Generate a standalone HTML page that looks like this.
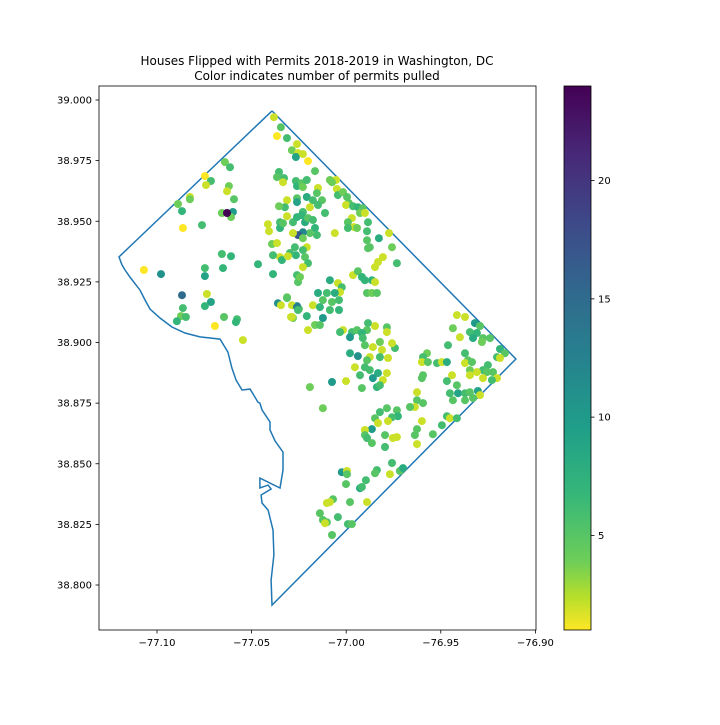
<!DOCTYPE html>
<html><head><meta charset="utf-8"><style>
body{margin:0;background:#fff;}
svg text{font-family:"DejaVu Sans","Liberation Sans",sans-serif;fill:#000;}
</style></head><body>
<svg id="chart" width="720" height="720" viewBox="0 0 720 720" xmlns="http://www.w3.org/2000/svg">
<rect width="720" height="720" fill="#fff"/>
<text x="317" y="65" font-size="12" text-anchor="middle">Houses Flipped with Permits 2018-2019 in Washington, DC</text>
<text x="317" y="80" font-size="12" text-anchor="middle">Color indicates number of permits pulled</text>
<g id="boundary"></g>
<g id="points"></g>
<rect x="99" y="86" width="437" height="544" fill="none" stroke="#000" stroke-width="0.8"/>
<g id="xaxis"></g>
<g id="yaxis"></g>
<defs><linearGradient id="vir" x1="0" y1="1" x2="0" y2="0">
<stop offset="0" stop-color="#fde725"/><stop offset="0.0625" stop-color="#b5de2b"/><stop offset="0.125" stop-color="#6ece58"/><stop offset="0.25" stop-color="#35b779"/><stop offset="0.375" stop-color="#1f9e89"/><stop offset="0.5" stop-color="#26828e"/><stop offset="0.625" stop-color="#31688e"/><stop offset="0.75" stop-color="#3e4989"/><stop offset="0.875" stop-color="#482878"/><stop offset="1" stop-color="#440154"/>
</linearGradient></defs>
<rect x="564" y="86" width="27" height="544" fill="url(#vir)" stroke="#000" stroke-width="0.8"/>
<g id="cbaxis"></g>
</svg>
<script>
const xTicks=[-77.10,-77.05,-77.00,-76.95,-76.90];
const xTickLabels=["−77.10","−77.05","−77.00","−76.95","−76.90"];
const yTicks=[39.000,38.975,38.950,38.925,38.900,38.875,38.850,38.825,38.800];
const yTickLabels=["39.000","38.975","38.950","38.925","38.900","38.875","38.850","38.825","38.800"];
const cbTicks=[5,10,15,20];
const cbMin=1, cbMax=24;
const boundaryLon=[-77.0392,-76.9103,-77.0392,-77.0397,-77.0382,-77.0387,-77.0413,-77.0445,-77.0450,-77.0397,-77.0413,-77.0456,-77.0456,-77.0350,-77.0334,-77.0334,-77.0376,-77.0403,-77.0403,-77.0445,-77.0456,-77.0466,-77.0508,-77.0551,-77.0582,-77.0604,-77.0625,-77.0667,-77.0773,-77.0852,-77.0921,-77.0984,-77.1037,-77.1063,-77.1090,-77.1143,-77.1169,-77.1185,-77.1201,-77.0392];
const boundaryLat=[38.9955,38.8932,38.7917,38.8020,38.8124,38.8227,38.8309,38.8338,38.8371,38.8396,38.8412,38.8400,38.8441,38.8400,38.8474,38.8548,38.8594,38.8639,38.8672,38.8722,38.8750,38.8754,38.8808,38.8804,38.8845,38.8895,38.8961,38.9014,38.9023,38.9039,38.9064,38.9101,38.9138,38.9175,38.9216,38.9270,38.9299,38.9320,38.9353,38.9955];
const lons=[-77.0382,-77.0345,-77.0366,-77.0313,-77.0260,-77.0287,-77.0255,-77.0266,-77.0202,-77.0165,-77.0641,-77.0614,-77.0747,-77.0715,-77.0741,-77.0620,-77.0630,-77.0593,-77.0826,-77.0826,-77.0889,-77.0868,-77.0657,-77.0599,-77.0609,-77.0863,-77.0762,-77.0657,-77.0609,-77.0466,-77.1069,-77.0979,-77.0747,-77.0651,-77.0747,-77.0387,-77.0868,-77.0736,-77.0863,-77.0715,-77.0747,-77.0873,-77.0847,-77.0895,-77.0646,-77.0577,-77.0583,-77.0694,-77.0546,-77.0361,-77.0345,-77.0260,-77.0287,-77.0313,-77.0250,-77.0292,-77.0281,-77.0202,-77.0208,-77.0176,-77.0149,
-77.0229,-77.0355,-77.0366,-77.0329,-77.0334,-77.0266,-77.0260,-77.0234,-77.0208,-77.0229,-77.0149,-77.0155,-77.0086,-77.0054,-77.0049,-77.0044,-77.0075,-77.0017,-76.9996,-76.9986,-77.0001,-76.9964,-76.9938,-76.9912,-76.9927,-76.9901,-76.9885,-76.9970,-76.9991,-76.9959,-76.9943,-76.9991,-77.0060,-76.9890,-76.9890,-76.9827,-76.9774,-76.9758,-76.9875,-76.9885,-76.9806,-76.9832,-76.9848,-76.9732,-77.0260,-77.0260,-77.0208,-77.0176,-77.0128,-77.0149,-77.0192,-77.0229,-77.0112,-77.0313,-77.0324,-77.0355,-77.0313,-77.0350,-77.0414,-77.0408,-77.0350,-77.0334,-77.0281,-77.0260,-77.0234,-77.0218,-77.0202,-77.0176,-77.0165,-77.0155,-77.0192,-77.0229,-77.0255,-77.0281,-77.0229,-77.0208,-77.0229,-77.0271,-77.0266,-77.0218,-77.0202,-77.0229,-77.0297,-77.0350,-77.0340,-77.0387,-77.0392,-77.0366,-77.0308,-77.0260,-77.0255,-77.0244,-77.0086,-77.0044,-77.0023,-77.0033,-77.0060,-77.0102,-77.0123,-77.0075,-77.0038,-77.0139,-77.0086,-77.0038,-77.0123,-77.0165,-77.0139,-77.0313,-77.0260,-77.0255,-77.0287,-76.9890,-76.9864,-76.9838,-76.9964,-76.9938,-76.9917,-76.9864,-76.9848,-76.9901,-77.0017,-76.9970,-76.9943,-76.9885,-76.9848,-76.9785,-76.9785,-76.9890,-76.9917,-76.9980,-77.0033,
-76.9415,-76.9372,-76.9436,-76.9399,-76.9320,-76.9293,-76.9346,-76.9309,-76.9330,-76.9277,-76.9240,-76.9283,-76.9462,-76.9187,-76.9161,-76.9372,-76.9357,-76.9372,-76.9335,-76.9203,-76.9187,-76.9251,-76.9277,-76.9346,-76.9346,-76.9309,-76.9256,-76.9224,-76.9203,-76.9230,-76.9277,-76.9573,-76.9594,-76.9600,-76.9568,-76.9520,-76.9494,-76.9468,-76.9441,-76.9468,-76.9594,-76.9600,-76.9415,-76.9452,-76.9409,-76.9372,-76.9346,-76.9304,-76.9293,-76.9372,-76.9330,-76.9436,
-76.9938,-76.9980,-76.9901,-76.9912,-76.9859,-76.9822,-76.9742,-76.9758,-76.9811,-76.9875,-76.9822,-76.9779,-76.9890,-76.9901,-76.9875,-76.9832,-76.9785,-76.9859,-76.9806,-76.9838,-76.9822,-76.9954,-76.9927,-76.9917,-77.0001,-77.0075,-77.0192,-77.0123,-76.9626,-76.9626,-76.9594,-76.9637,-76.9663,-76.9600,-76.9468,-76.9452,-76.9415,-76.9494,-76.9542,-76.9626,-76.9637,-76.9626,-76.9822,-76.9785,-76.9732,-76.9727,-76.9758,-76.9848,-76.9832,-76.9779,-76.9864,-76.9901,-76.9901,-76.9890,-76.9864,-76.9795,-76.9753,-76.9732,-76.9795,-76.9758,-76.9838,-76.9848,-76.9769,-76.9716,-76.9700,-77.0023,-76.9996,-76.9996,-76.9896,-77.0001,-76.9927,-76.9917,-76.9890,-76.9980,-77.0070,-77.0102,-77.0086,-77.0139,-77.0123,-77.0102,-77.0044,-76.9991,-76.9970,-77.0075,-77.0112,-77.0630];
const lats=[38.9929,38.9888,38.9851,38.9843,38.9818,38.9793,38.9781,38.9765,38.9748,38.9707,38.9744,38.9723,38.9686,38.9666,38.9649,38.9645,38.9624,38.9591,38.9600,38.9591,38.9571,38.9542,38.9534,38.9538,38.9517,38.9472,38.9484,38.9365,38.9356,38.9323,38.9299,38.9282,38.9307,38.9307,38.9274,38.9282,38.9195,38.9200,38.9142,38.9167,38.9150,38.9109,38.9105,38.9088,38.9105,38.9096,38.9084,38.9068,38.9010,38.9162,38.9154,38.9150,38.9154,38.9187,38.9138,38.9105,38.9101,38.9051,38.9109,38.9154,38.9204,
38.9777,38.9703,38.9682,38.9678,38.9661,38.9666,38.9645,38.9657,38.9670,38.9641,38.9637,38.9616,38.9670,38.9670,38.9633,38.9608,38.9661,38.9620,38.9600,38.9575,38.9567,38.9562,38.9558,38.9554,38.9534,38.9534,38.9496,38.9513,38.9496,38.9476,38.9472,38.9472,38.9451,38.9459,38.9422,38.9430,38.9451,38.9393,38.9393,38.9389,38.9352,38.9332,38.9311,38.9327,38.9595,38.9579,38.9600,38.9587,38.9587,38.9567,38.9558,38.9538,38.9534,38.9587,38.9558,38.9562,38.9521,38.9496,38.9488,38.9459,38.9472,38.9492,38.9496,38.9517,38.9525,38.9496,38.9513,38.9505,38.9472,38.9443,38.9451,38.9455,38.9443,38.9451,38.9430,38.9393,38.9381,38.9393,38.9360,38.9352,38.9327,38.9311,38.9369,38.9352,38.9340,38.9360,38.9406,38.9410,38.9356,38.9278,38.9249,38.9270,38.9257,38.9245,38.9228,38.9208,38.9204,38.9204,38.9175,38.9167,38.9175,38.9146,38.9134,38.9134,38.9101,38.9072,38.9072,38.9183,38.9146,38.9134,38.9105,38.9204,38.9204,38.9204,38.9278,38.9294,38.9270,38.9257,38.9249,38.9257,38.9051,38.9043,38.9051,38.9080,38.9068,38.9063,38.9043,38.9051,38.9039,38.9022,38.9043,
38.9113,38.9105,38.9059,38.9022,38.9080,38.9068,38.9043,38.9039,38.9018,38.9018,38.9018,38.9002,38.8989,38.8973,38.8956,38.8956,38.8927,38.8915,38.8919,38.8940,38.8936,38.8907,38.8886,38.8886,38.8865,38.8878,38.8878,38.8878,38.8853,38.8845,38.8853,38.8956,38.8940,38.8919,38.8919,38.8915,38.8919,38.8919,38.8865,38.8841,38.8865,38.8853,38.8824,38.8791,38.8791,38.8791,38.8795,38.8800,38.8783,38.8762,38.8771,38.8762,
38.8944,38.8956,38.8989,38.9018,38.8981,38.9002,38.8977,38.8997,38.8969,38.8940,38.8940,38.8936,38.8927,38.8898,38.8886,38.8874,38.8874,38.8853,38.8845,38.8816,38.8824,38.8898,38.8865,38.8812,38.8841,38.8837,38.8816,38.8729,38.8795,38.8762,38.8750,38.8734,38.8734,38.8676,38.8696,38.8688,38.8688,38.8659,38.8622,38.8643,38.8618,38.8581,38.8713,38.8729,38.8721,38.8696,38.8692,38.8688,38.8668,38.8676,38.8643,38.8639,38.8618,38.8606,38.8585,38.8618,38.8606,38.8610,38.8569,38.8503,38.8474,38.8461,38.8457,38.8470,38.8482,38.8465,38.8470,38.8457,38.8432,38.8416,38.8399,38.8404,38.8342,38.8342,38.8354,38.8338,38.8342,38.8296,38.8268,38.8259,38.8280,38.8251,38.8251,38.8206,38.8255,38.9534];
const permits=[2,5,1,6,2,4,2,9,1,5,4,6,1,6,2,4,2,5,2,4,4,7,4,10,4,1,6,6,7,7,1,11,6,7,9,7,15,2,6,9,7,4,6,7,5,6,7,1,2,11,2,12,2,4,5,2,4,2,7,2,8,
2,6,5,6,2,6,7,5,6,4,2,5,4,2,2,6,4,4,5,5,2,6,7,5,4,2,6,2,5,2,4,6,2,6,5,8,2,4,5,5,2,2,2,6,5,9,8,6,5,6,2,6,6,2,6,4,2,6,2,2,7,5,6,7,7,8,5,6,7,6,5,12,17,2,4,2,6,6,7,5,6,2,6,2,7,6,4,2,2,6,5,4,8,2,6,2,8,6,5,5,6,7,6,7,10,4,5,5,13,6,2,5,4,5,2,5,7,7,2,7,2,6,5,6,2,5,2,5,7,10,6,
2,2,4,2,10,5,6,7,8,5,5,4,6,7,5,6,5,2,5,6,2,6,6,4,2,2,5,5,2,6,2,4,6,2,5,6,2,8,2,6,5,5,5,6,9,6,5,9,2,5,5,5,
11,8,5,6,2,4,6,2,2,2,6,2,5,6,6,8,2,10,2,7,6,2,6,5,2,10,4,4,2,5,5,2,5,2,6,2,6,6,5,5,5,2,6,5,5,7,6,5,2,2,10,2,5,6,5,5,2,2,6,6,6,5,2,5,8,10,2,5,6,5,8,6,2,5,5,2,2,5,5,5,6,6,5,5,2,24];

const NS="http://www.w3.org/2000/svg";
function xs(lon){return 157+(lon+77.10)*1892;}
function ys(lat){return 100+(39.0-lat)*2425;}
function cbY(v){return 630-(v-cbMin)/(cbMax-cbMin)*544;}
const vstops=[[68,1,84],[72,40,120],[62,73,137],[49,104,142],[38,130,142],[31,158,137],[53,183,121],[110,206,88],[181,222,43],[253,231,37]];
const vpos=[0,0.125,0.25,0.375,0.5,0.625,0.75,0.875,0.9375,1];
function color(v){
  let t=1-(v-cbMin)/(cbMax-cbMin); t=Math.max(0,Math.min(1,t));
  let i=0; while(i<vpos.length-2&&t>vpos[i+1])i++;
  const f=(t-vpos[i])/(vpos[i+1]-vpos[i]);
  const c=vstops[i].map((a,k)=>Math.round(a+(vstops[i+1][k]-a)*f));
  return "rgb("+c.join(",")+")";
}
function mk(tag,attrs,parent){const e=document.createElementNS(NS,tag);for(const k in attrs)e.setAttribute(k,attrs[k]);parent.appendChild(e);return e;}

const bg=document.getElementById("boundary");
const poly=mk("polyline",{points:boundaryLon.map((l,i)=>xs(l).toFixed(1)+","+ys(boundaryLat[i]).toFixed(1)).join(" "),fill:"none",stroke:"#1f77b4","stroke-width":"1.5"},bg);



const pg=document.getElementById("points");
for(let i=0;i<lons.length;i++){
  const c=mk("circle",{cx:xs(lons[i]).toFixed(1),cy:ys(lats[i]).toFixed(1),r:"4",fill:color(permits[i])},pg);
  
  
}

const xg=document.getElementById("xaxis");
xTicks.forEach((v,i)=>{
  const x=xs(v);
  const l=mk("line",{x1:x,x2:x,y1:630,y2:633.5,stroke:"#000","stroke-width":"0.8"},xg);
  
  
  const t=mk("text",{x:x,y:646,"font-size":"10","text-anchor":"middle"},xg);
  t.textContent=xTickLabels[i];
  
  
});
const yg=document.getElementById("yaxis");
yTicks.forEach((v,i)=>{
  const y=ys(v);
  const l=mk("line",{x1:95.5,x2:99,y1:y,y2:y,stroke:"#000","stroke-width":"0.8"},yg);
  
  
  const t=mk("text",{x:92,y:y+3.5,"font-size":"10","text-anchor":"end"},yg);
  t.textContent=yTickLabels[i];
  
  
});
const cg=document.getElementById("cbaxis");
cbTicks.forEach(v=>{
  const y=cbY(v);
  const l=mk("line",{x1:591,x2:594.5,y1:y,y2:y,stroke:"#000","stroke-width":"0.8"},cg);
  
  
  const t=mk("text",{x:598,y:y+3.5,"font-size":"10"},cg);
  t.textContent=String(v);
  
  
});
</script>
</body></html>
